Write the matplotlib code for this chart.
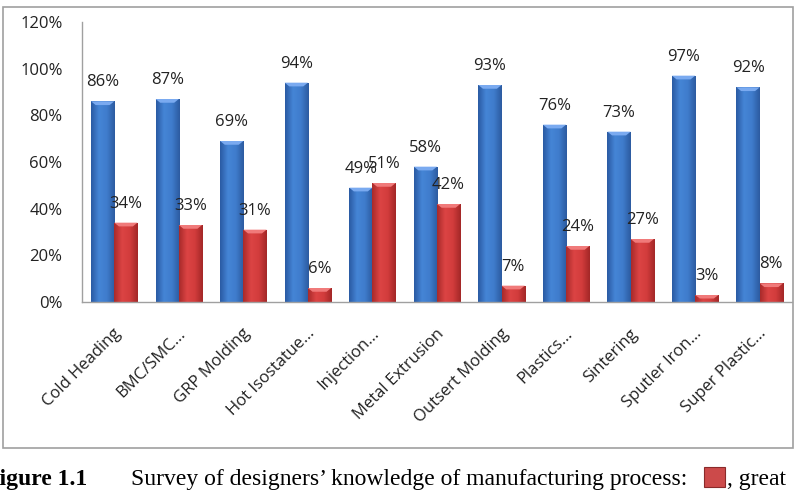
import matplotlib
matplotlib.use("Agg")
import matplotlib.pyplot as plt
from matplotlib.patches import Rectangle, Polygon
from matplotlib.colors import LinearSegmentedColormap
import numpy as np

processes = ["Cold Heading", "BMC/SMC...", "GRP Molding", "Hot Isostatue...",
             "Injection...", "Metal Extrusion", "Outsert Molding", "Plastics...",
             "Sintering", "Sputler Iron...", "Super Plastic..."]
knowledge = [86, 87, 69, 94, 49, 58, 93, 76, 73, 97, 92]   # blue
great = [34, 33, 31, 6, 51, 42, 7, 24, 27, 3, 8]           # red
yticks = [0, 20, 40, 60, 80, 100, 120]

W, H = 799, 494
fig = plt.figure(figsize=(W / 100, H / 100), dpi=100)
fig.patch.set_facecolor("white")

# outer chart frame
fig.patches.append(Rectangle((3 / W, 1 - 448 / H), 790 / W, 441 / H,
                             transform=fig.transFigure, fill=False,
                             edgecolor="#a0a0a0", linewidth=1.2))

ax = fig.add_axes([82 / W, 1 - 302 / H, 710 / W, 280 / H])

blue_cm = LinearSegmentedColormap.from_list("b", ["#2a5aa3", "#4585d6", "#3f7ccc", "#2c5ba0"])
red_cm = LinearSegmentedColormap.from_list("r", ["#a82a2a", "#dc4444", "#d23c3c", "#a32727"])
grad = np.linspace(0, 1, 64).reshape(1, -1)

bw = 0.36
x = np.arange(len(processes))


def shaded_bars(xs, vals, cmap, top_col):
    bars = ax.bar(xs, vals, width=bw, color="none", edgecolor="none")
    for b in bars:
        x0, w, h = b.get_x(), b.get_width(), b.get_height()
        im = ax.imshow(grad, cmap=cmap, aspect="auto", extent=[x0, x0 + w, 0, h],
                       zorder=2, interpolation="bicubic")
        im.set_clip_path(b)
        # bevel on top
        d = min(1.6, h / 2)
        ax.add_patch(Polygon([[x0, h], [x0 + w, h], [x0 + w * 0.8, h - d],
                              [x0 + w * 0.2, h - d]], closed=True,
                             facecolor=top_col, edgecolor="none", zorder=3))
    return bars


shaded_bars(x - bw / 2, knowledge, blue_cm, "#7aaaf0")
shaded_bars(x + bw / 2, great, red_cm, "#f07a7a")
ax.set_xlim(-0.5, len(processes) - 0.5)
ax.set_ylim(0, 120)

lbl_font = dict(family=["Open Sans", "DejaVu Sans"], fontsize=12, color="#222222")
for i in range(len(processes)):
    ax.annotate(f"{knowledge[i]}%", (x[i] - bw / 2, knowledge[i]), xytext=(0, 8),
                textcoords="offset points", ha="center", va="bottom", **lbl_font)
    ax.annotate(f"{great[i]}%", (x[i] + bw / 2, great[i]), xytext=(0, 8),
                textcoords="offset points", ha="center", va="bottom", **lbl_font)

ax.set_yticks(yticks)
ax.set_yticklabels([f"{v}%" for v in yticks], **lbl_font)
ax.set_xticks(x - 0.02)
ax.set_xticklabels(processes, rotation=45, ha="right", rotation_mode="anchor", **lbl_font)
ax.tick_params(axis="both", length=0)
ax.tick_params(axis="y", pad=14)
ax.tick_params(axis="x", pad=17)
for s in ["top", "right"]:
    ax.spines[s].set_visible(False)
for s in ["left", "bottom"]:
    ax.spines[s].set_color("#a0a0a0")
    ax.spines[s].set_linewidth(1.0)

# caption
cap_y = 1 - 479 / H
fig.text(-15 / W, cap_y, "Figure 1.1", family="Liberation Serif", fontweight="bold",
         fontsize=17, va="center", ha="left")
fig.text(131 / W, cap_y, "Survey of designers\u2019 knowledge of manufacturing process:",
         family="Liberation Serif", fontsize=17, va="center", ha="left")
fig.patches.append(Rectangle((704 / W, 1 - 487 / H), 21 / W, 20 / H,
                             transform=fig.transFigure, facecolor="#cc4a4a",
                             edgecolor="#8a2a2a", linewidth=0.8))
fig.text(727 / W, cap_y, ", great", family="Liberation Serif", fontsize=17,
         va="center", ha="left")

fig.savefig("out.png", dpi=100)
